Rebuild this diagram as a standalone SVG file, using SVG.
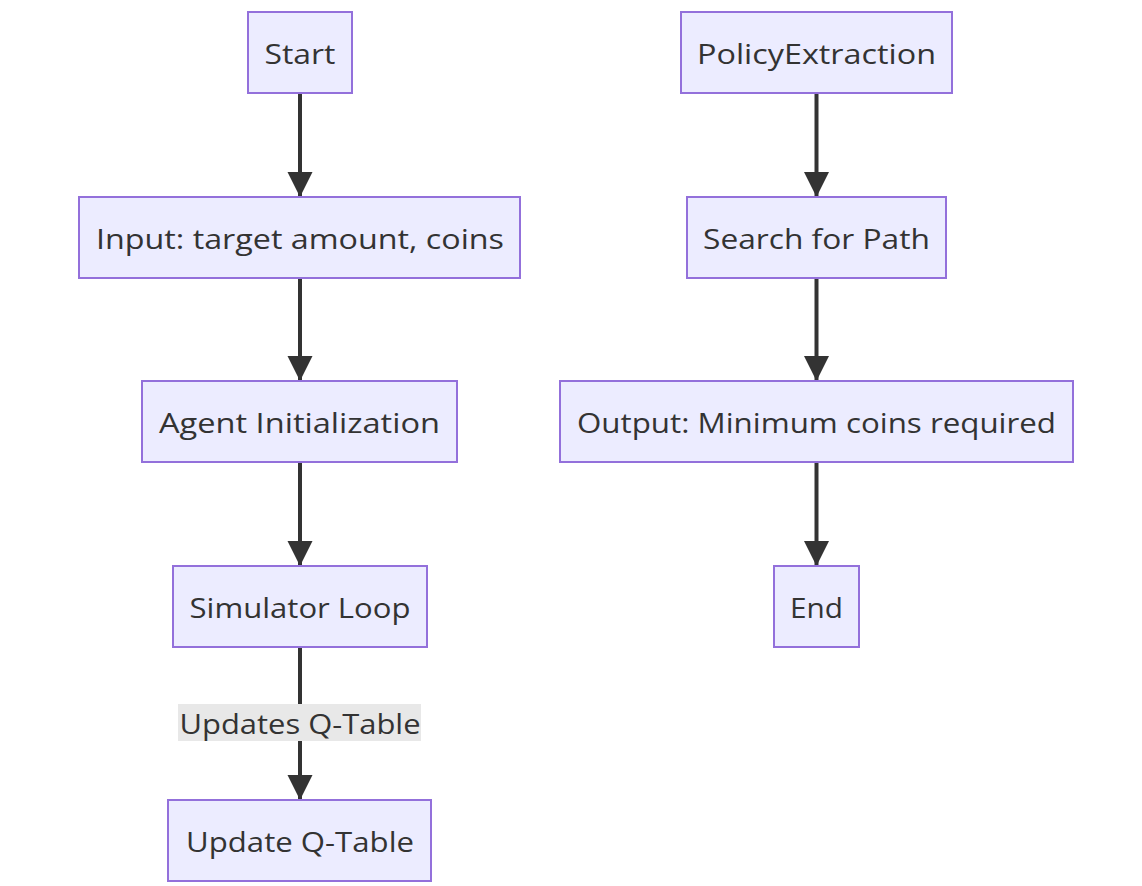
<svg xmlns="http://www.w3.org/2000/svg" width="1142" height="886" viewBox="0 0 1142 886">
<defs>
<style>
.node rect{fill:#ECECFF;stroke:#9370DB;stroke-width:2}
.node text,.lbl text{font-family:"Open Sans","DejaVu Sans",sans-serif;font-size:28px;fill:#333;text-anchor:middle}
.edge{stroke:#333;stroke-width:4;fill:none}
.lbl rect{fill:#e8e8e8}
</style>
<marker id="arr" viewBox="0 0 10 10" refX="10" refY="5" markerUnits="userSpaceOnUse" markerWidth="25" markerHeight="26" orient="auto">
<path d="M0,0 L10,5 L0,10 z" fill="#333"/>
</marker>
</defs>
<rect width="1142" height="886" fill="#fff"/>
<g id="connectors">
<line class="edge" x1="300" y1="93" x2="300" y2="197" marker-end="url(#arr)"/>
<line class="edge" x1="300" y1="278" x2="300" y2="381" marker-end="url(#arr)"/>
<line class="edge" x1="300" y1="462" x2="300" y2="566" marker-end="url(#arr)"/>
<line class="edge" x1="300" y1="647" x2="300" y2="800" marker-end="url(#arr)"/>
<line class="edge" x1="816.5" y1="93" x2="816.5" y2="197" marker-end="url(#arr)"/>
<line class="edge" x1="816.5" y1="278" x2="816.5" y2="381" marker-end="url(#arr)"/>
<line class="edge" x1="816.5" y1="462" x2="816.5" y2="566" marker-end="url(#arr)"/>
<g class="lbl" id="label-updates">
<rect x="178" y="704" width="243" height="37"/>
<text x="300" y="734" textLength="241" lengthAdjust="spacingAndGlyphs">Updates Q-Table</text>
</g>
</g>
<g id="start" class="node"><rect x="248" y="12" width="104" height="81"/><text x="300" y="64" textLength="71" lengthAdjust="spacingAndGlyphs">Start</text></g>
<g id="input" class="node"><rect x="79" y="197" width="441" height="81"/><text x="300" y="249" textLength="408" lengthAdjust="spacingAndGlyphs">Input: target amount, coins</text></g>
<g id="agent" class="node"><rect x="142" y="381" width="315" height="81"/><text x="299.5" y="433" textLength="281" lengthAdjust="spacingAndGlyphs">Agent Initialization</text></g>
<g id="sim" class="node"><rect x="173" y="566" width="254" height="81"/><text x="300" y="618" textLength="221" lengthAdjust="spacingAndGlyphs">Simulator Loop</text></g>
<g id="update" class="node"><rect x="168" y="800" width="263" height="81"/><text x="300" y="852" textLength="228" lengthAdjust="spacingAndGlyphs">Update Q-Table</text></g>
<g id="policy" class="node"><rect x="681" y="12" width="271" height="81"/><text x="816.5" y="64" textLength="239" lengthAdjust="spacingAndGlyphs">PolicyExtraction</text></g>
<g id="search" class="node"><rect x="687" y="197" width="259" height="81"/><text x="816.5" y="249" textLength="227" lengthAdjust="spacingAndGlyphs">Search for Path</text></g>
<g id="output" class="node"><rect x="560" y="381" width="513" height="81"/><text x="816.5" y="433" textLength="479" lengthAdjust="spacingAndGlyphs">Output: Minimum coins required</text></g>
<g id="end" class="node"><rect x="774" y="566" width="85" height="81"/><text x="816.5" y="618" textLength="53" lengthAdjust="spacingAndGlyphs">End</text></g>
</svg>
